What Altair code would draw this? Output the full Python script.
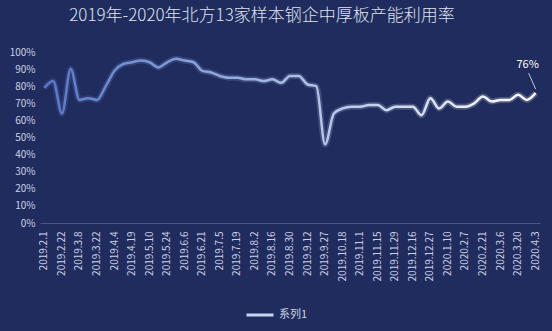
import altair as alt
import pandas as pd

dates = [
    "2019.2.1", "2019.2.15", "2019.2.22", "2019.3.1", "2019.3.8", "2019.3.15",
    "2019.3.22", "2019.3.29", "2019.4.4", "2019.4.12", "2019.4.19", "2019.4.26",
    "2019.5.10", "2019.5.17", "2019.5.24", "2019.5.31", "2019.6.6", "2019.6.14",
    "2019.6.21", "2019.6.28", "2019.7.5", "2019.7.12", "2019.7.19", "2019.7.26",
    "2019.8.2", "2019.8.9", "2019.8.16", "2019.8.23", "2019.8.30", "2019.9.6",
    "2019.9.12", "2019.9.20", "2019.9.27", "2019.10.11", "2019.10.18", "2019.10.25",
    "2019.11.1", "2019.11.8", "2019.11.15", "2019.11.22", "2019.11.29", "2019.12.6",
    "2019.12.16", "2019.12.20", "2019.12.27", "2020.1.3", "2020.1.10", "2020.1.17",
    "2020.2.7", "2020.2.14", "2020.2.21", "2020.2.28", "2020.3.6", "2020.3.13",
    "2020.3.20", "2020.3.27", "2020.4.3",
]
values = [
    79, 83, 64, 90, 72, 73, 72, 80, 89, 93,
    94, 95, 94, 91, 94, 96, 95, 94, 89, 88,
    86, 85, 85, 84, 84, 83, 84, 82, 86, 86,
    81, 80, 46, 64, 67, 68, 68, 69, 69, 66,
    68, 68, 68, 63, 73, 67, 71, 68, 68, 70,
    74, 71, 72, 72, 75, 72, 76,
]
tick_labels = dates[::2]
y_ticks = [0, 0.1, 0.2, 0.3, 0.4, 0.5, 0.6, 0.7, 0.8, 0.9, 1.0]
series_name = "系列1"
title_text = "2019年-2020年北方13家样本钢企中厚板产能利用率"

df = pd.DataFrame({
    "date": dates,
    "value": [v / 100 for v in values],
    "series": [series_name] * len(dates),
})
last = df.tail(1)

FONT = "Noto Sans CJK SC"
LABEL_COLOR = "#ccd2e4"

shown = "[" + ",".join("'" + t + "'" for t in tick_labels) + "]"
label_expr = f"indexof({shown}, datum.value) >= 0 ? datum.value : ''"

x_enc = alt.X(
    "date:O", sort=dates, title=None,
    axis=alt.Axis(labelExpr=label_expr, labelAngle=-90, labelAlign="right",
                  labelBaseline="middle", ticks=False, labelPadding=8,
                  labelOverlap=False, labelBound=False,
                  labelFontSize=10, labelColor=LABEL_COLOR, labelFont=FONT,
                  domainColor="#4b5683", domainWidth=1, grid=False),
)
y_enc = alt.Y(
    "value:Q", title=None, scale=alt.Scale(domain=[0, 1]),
    axis=alt.Axis(values=y_ticks, format=".0%", grid=False, domain=False,
                  ticks=False, labelPadding=5, labelFontSize=10,
                  labelColor=LABEL_COLOR, labelFont=FONT),
)

grad = alt.Gradient(
    gradient="linear",
    stops=[
        alt.GradientStop(color="#5878c8", offset=0),
        alt.GradientStop(color="#a9bce6", offset=0.5),
        alt.GradientStop(color="#ffffff", offset=1),
    ],
    x1=0, x2=1, y1=0, y2=0,
)

base = alt.Chart(df)

glow = base.mark_line(stroke=grad, strokeWidth=6, opacity=0.22,
                      interpolate="monotone").encode(x=x_enc, y=y_enc)
line = base.mark_line(stroke=grad, strokeWidth=2.5,
                      interpolate="monotone").encode(x=x_enc, y=y_enc)

legend_layer = alt.Chart(last).mark_line(strokeWidth=3).encode(
    x=x_enc, y=y_enc,
    color=alt.Color("series:N", scale=alt.Scale(range=["#c9d5f2"]),
                    legend=alt.Legend(title=None)),
)

leader = alt.Chart(last).mark_rule(
    color="#e8ecf8", strokeWidth=0.8, yOffset=-4, y2Offset=-20, x2Offset=-7
).encode(x=x_enc, y=y_enc, x2=alt.X2("date"), y2=alt.Y2("value"))

label = alt.Chart(last).mark_text(
    dx=-8, dy=-28, color="#ffffff", fontSize=11, font=FONT
).encode(x=x_enc, y=y_enc, text=alt.Text("value:Q", format=".0%"))

chart = alt.layer(glow, line, legend_layer, leader, label).properties(
    width=500, height=171,
    title=alt.TitleParams(title_text, fontSize=17, font=FONT, fontWeight=300,
                          color="#dfe3ee", offset=22, dx=-28, anchor="middle"),
    autosize=alt.AutoSizeParams(type="none"),
    padding={"left": 40, "top": 52, "right": 12, "bottom": 108},
    background="#202c5d",
).configure_view(stroke=None).configure_legend(
    orient="none", legendX=205, legendY=248, padding=0,
    symbolType="stroke", symbolSize=729, symbolStrokeWidth=3,
    labelFontSize=11, labelColor=LABEL_COLOR, labelFont=FONT,
)

chart.save("out.html", embed_options={"renderer": "svg", "actions": False})
